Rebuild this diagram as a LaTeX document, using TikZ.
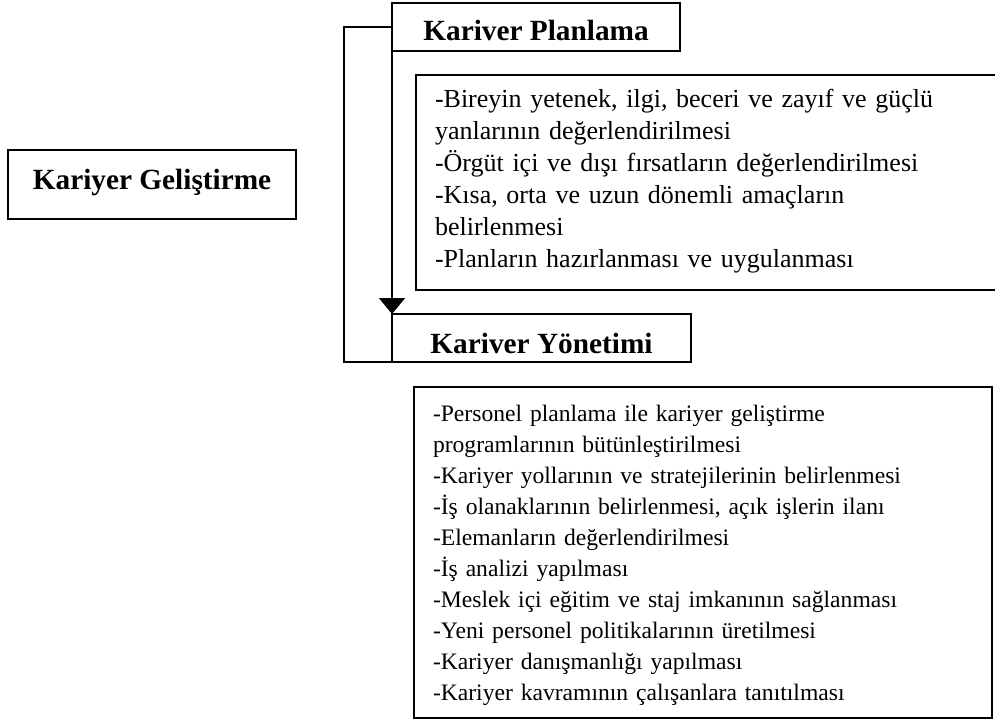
\documentclass[tikz,border=0pt]{standalone}
\usepackage{fontspec}
\setmainfont{Liberation Serif}
\usetikzlibrary{arrows.meta}
\begin{document}
\begin{tikzpicture}[x=1pt,y=-1pt,
  every node/.style={inner sep=0pt, outer sep=0pt},
  titlebox/.style={draw, line width=1.6pt, font=\fontsize{29.3}{32}\selectfont\bfseries},
  detailbox/.style={draw, line width=1.6pt, align=left, inner xsep=19pt, inner ysep=0pt},
  conn/.style={line width=1.6pt}]
\useasboundingbox (0,0) rectangle (995,724);

\node[titlebox, anchor=base, minimum width=288pt, text height=39pt, text depth=30pt] (dev) at (152,189) {Kariyer Geliştirme};

\node[titlebox, anchor=base, minimum width=288pt, text height=37.7pt, text depth=10.3pt] (plan) at (536,40.7) {Kariver Planlama};

\node[titlebox, anchor=base, minimum width=299pt, text height=39.3pt, text depth=8.7pt] (yon) at (541.5,353.3) {Kariver Yönetimi};

\node[detailbox, anchor=base west, text width=562pt, text height=32pt, text depth=183pt,
  font=\fontsize{26}{32}\selectfont] (plandet) at (416,107)
{-Bireyin yetenek, ilgi, beceri ve zayıf ve güçlü\\
yanlarının değerlendirilmesi\\
-Örgüt içi ve dışı fırsatların değerlendirilmesi\\
-Kısa, orta ve uzun dönemli amaçların\\
belirlenmesi\\
-Planların hazırlanması ve uygulanması};

\node[detailbox, anchor=base west, text width=540pt, text height=34pt, text depth=297pt,
  font=\fontsize{23.6}{31.1}\selectfont] (yondet) at (414,421)
{-Personel planlama ile kariyer geliştirme\\
programlarının bütünleştirilmesi\\
-Kariyer yollarının ve stratejilerinin belirlenmesi\\
-İş olanaklarının belirlenmesi, açık işlerin ilanı\\
-Elemanların değerlendirilmesi\\
-İş analizi yapılması\\
-Meslek içi eğitim ve staj imkanının sağlanması\\
-Yeni personel politikalarının üretilmesi\\
-Kariyer danışmanlığı yapılması\\
-Kariyer kavramının çalışanlara tanıtılması};

\draw[conn] (plan.west) -- ++(-48,0) |- (yon.south west);
\draw[conn, -{Triangle[length=16pt, width=26pt]}] (plan.south west) -- (yon.north west);
\end{tikzpicture}
\end{document}
